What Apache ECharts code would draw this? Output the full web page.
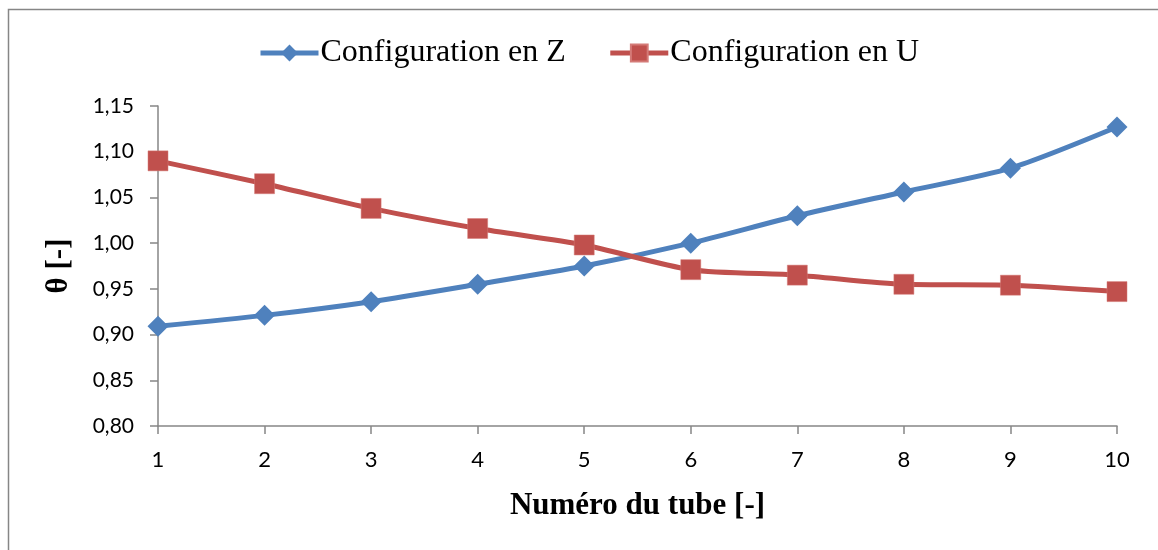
<!DOCTYPE html>
<html>
<head>
<meta charset="utf-8">
<script src="https://cdn.jsdelivr.net/npm/echarts@6/dist/echarts.min.js"></script>
<style>
  html, body { margin: 0; padding: 0; background: #fff; }
  #chart { width: 1158px; height: 550px; }
</style>
</head>
<body>
<div id="chart"></div>
<script>
// Tube numbers along the manifold
const tubes = ['1', '2', '3', '4', '5', '6', '7', '8', '9', '10'];
// Flow distribution θ for each configuration
const configZ = [0.909, 0.921, 0.936, 0.955, 0.975, 1.000, 1.030, 1.056, 1.082, 1.127];
const configU = [1.090, 1.065, 1.038, 1.016, 0.998, 0.971, 0.965, 0.955, 0.954, 0.947];
const seriesNames = ['Configuration en Z', 'Configuration en U'];

const chart = echarts.init(document.getElementById('chart'));

const axisGray = '#868686';
const serif = '"Liberation Serif", "Times New Roman", serif';
const sans = 'Lato, "Noto Sans", sans-serif';

chart.setOption({
  backgroundColor: '#fff',
  animation: false,
  graphic: [{
    type: 'rect',
    shape: { x: 8.5, y: 9.5, width: 1200, height: 600 },
    style: { fill: 'none', stroke: axisGray, lineWidth: 1.5 },
    silent: true
  }],
  legend: {
    top: 32,
    left: 253,
    itemWidth: 58,
    itemHeight: 21,
    itemGap: 42,
    lineStyle: { width: 5 },
    textStyle: { fontFamily: serif, fontSize: 32, color: '#000', padding: [0, 0, 0, -3] },
    data: seriesNames
  },
  grid: { left: 158, right: 41, top: 106, bottom: 124 },
  xAxis: {
    type: 'category',
    data: tubes,
    boundaryGap: false,
    name: 'Numéro du tube [-]',
    nameLocation: 'middle',
    nameGap: 64,
    nameTextStyle: { fontFamily: serif, fontSize: 31, fontWeight: 'bold', color: '#000' },
    axisLine: { lineStyle: { color: axisGray, width: 1.5 } },
    axisTick: { show: true, length: 8, lineStyle: { color: axisGray, width: 1.5 } },
    axisLabel: { fontFamily: sans, fontSize: 22, color: '#000', margin: 23 },
    splitLine: { show: false }
  },
  yAxis: {
    type: 'value',
    min: 0.8,
    max: 1.15,
    interval: 0.05,
    name: 'θ [-]',
    nameLocation: 'middle',
    nameGap: 84,
    nameTextStyle: { fontFamily: serif, fontSize: 31, fontWeight: 'bold', color: '#000' },
    axisLine: { show: true, lineStyle: { color: axisGray, width: 1.5 } },
    axisTick: { show: true, length: 8, lineStyle: { color: axisGray, width: 1.5 } },
    axisLabel: {
      fontFamily: sans, fontSize: 21, color: '#000', margin: 24,
      formatter: v => v.toFixed(2).replace('.', ',')
    },
    splitLine: { show: false }
  },
  series: [
    {
      name: seriesNames[0],
      type: 'line',
      data: configZ,
      smooth: 0.25,
      symbol: 'diamond',
      symbolSize: 21,
      lineStyle: { color: '#4F81BD', width: 5 },
      itemStyle: { color: '#4F81BD' }
    },
    {
      name: seriesNames[1],
      type: 'line',
      data: configU,
      smooth: 0.25,
      symbol: 'rect',
      symbolSize: 20,
      lineStyle: { color: '#C0504D', width: 5 },
      itemStyle: { color: '#C0504D', borderColor: '#D47A77', borderWidth: 0.5 }
    }
  ]
});
</script>
</body>
</html>
